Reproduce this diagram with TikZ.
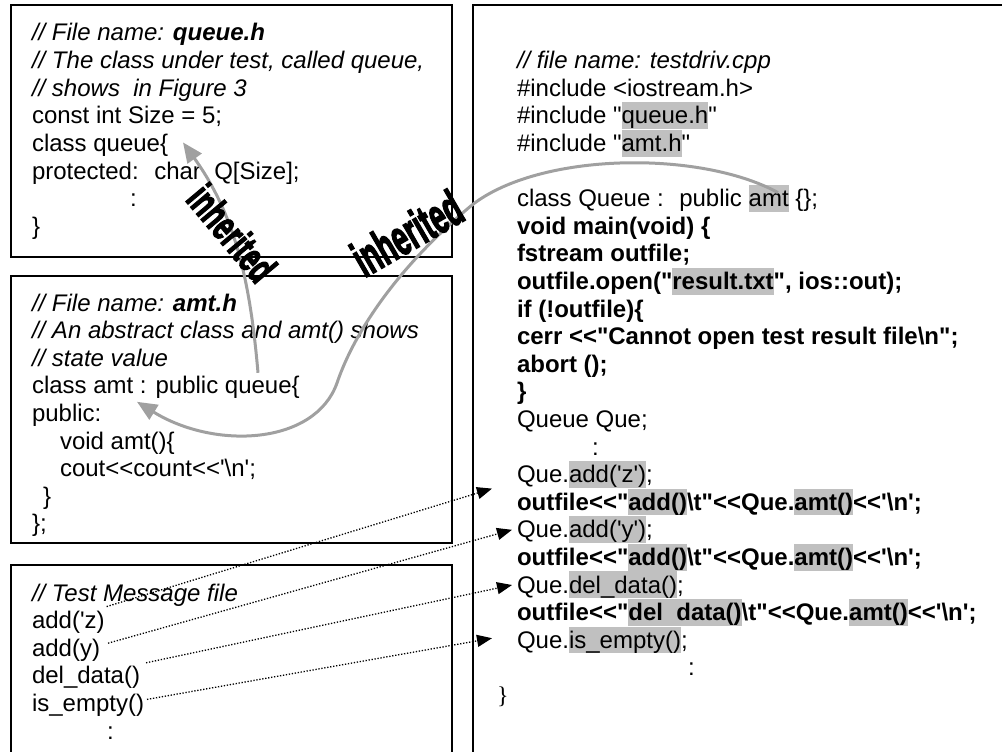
\documentclass[tikz,border=0pt]{standalone}
\usepackage{fontspec}
\usepackage{graphicx}
\setmainfont{Liberation Sans}[Ligatures=TeXOff]
\newfontfamily\bracefont{Liberation Serif}
\newfontfamily\wafont{Liberation Sans}[BoldFeatures={FakeBold=3.5}]
\usetikzlibrary{arrows.meta}
\definecolor{hlgray}{RGB}{192,192,192}
\definecolor{arrowgray}{RGB}{160,160,160}
% grey shading behind a word, as tall as the text line
\newcommand\hl[1]{{\setlength{\fboxsep}{0pt}\colorbox{hlgray}{\rule[-5.1pt]{0pt}{26.8pt}#1}}}
\newcommand\bs{\textbackslash}
\begin{document}
\begin{tikzpicture}[x=1pt,y=-1pt,
  frame/.style={draw=black, line width=1.6pt},
  ln/.style={anchor=base west, inner sep=0pt, outer sep=0pt, font=\fontsize{24}{27.6}\selectfont},
  inherit/.style={draw=arrowgray, line width=3pt, -{Triangle[length=20pt,width=17pt]}},
  msg/.style={draw=black, line width=1.3pt, dash pattern=on 1.3pt off 1.7pt, -{Triangle[length=15pt,width=12pt]}},
  wordart/.style={inner sep=0pt, font=\fontsize{40}{40}\wafont\bfseries}]
\useasboundingbox (0,0) rectangle (1002,752);
\clip (0,0) rectangle (1002,752);

% file frames
\draw[frame] (11,5) rectangle (452,257);
\draw[frame] (11,276) rectangle (452,543);
\draw[frame] (11,565) rectangle (452,770);
\draw[frame] (473,5) rectangle (1020,770);

% queue.h
\node[ln] (qa0) at (32,41) {\itshape // File name: \textbf{queue.h}};
\node[ln] (qa1) at (32,68.6) {\itshape // The class under test, called queue,};
\node[ln] (qa2) at (32,96.2) {\itshape // shows~ in Figure 3};
\node[ln] (qa3) at (32,123.8) {const int Size = 5;};
\node[ln] (qaClass) at (32,151.4) {class queue\{};
\node[ln] (qa5) at (32,179) {protected:~ char~ Q[Size];};
\node[ln] (qa6) at (130,206.6) {:};
\node[ln] (qa7) at (32,234.2) {\}};

% amt.h
\node[ln] (b0) at (32,311) {\itshape // File name: \textbf{amt.h}};
\node[ln] (b1) at (32,338.6) {\itshape // An abstract class and amt() shows};
\node[ln] (b2) at (32,366.2) {\itshape // state value};
\node[ln] (bClass) at (32,393.8) {class amt : public queue\{};
\node[ln] (b4) at (32,421.4) {public:};
\node[ln] (b5) at (60,449) {void amt()\{};
\node[ln] (b6) at (60,476.6) {cout<<count<<'\bs n';};
\node[ln] (b7) at (43,504.2) {\}};
\node[ln] (b8) at (32,531.8) {\};};

% test message file
\node[ln] (c0) at (32,601) {\itshape // Test Message file};
\node[ln] (cAddZ) at (32,628.6) {add('z)};
\node[ln] (cAddY) at (32,656.2) {add(y)};
\node[ln] (cDel) at (32,683.8) {del\_data()};
\node[ln] (cEmpty) at (32,711.4) {is\_empty()};
\node[ln] (c5) at (107,739) {:};

% testdriv.cpp
\node[ln] (d1) at (517,68.6) {\itshape // file name: testdriv.cpp};
\node[ln] (d2) at (517,96.2) {\#include <iostream.h>};
\node[ln] (d3) at (517,123.8) {\#include "\hl{queue.h}"};
\node[ln] (d4) at (517,151.4) {\#include "\hl{amt.h}"};
\node[ln] (dClassQ) at (517,206.6) {class Queue :~ public \hl{amt} \{\};};
\node[ln] (d7) at (517,234.2) {\bfseries void main(void) \{};
\node[ln] (d8) at (517,261.8) {\bfseries fstream outfile;};
\node[ln] (d9) at (517,289.4) {\bfseries outfile.open("\hl{result.txt}", ios::out);};
\node[ln] (d10) at (517,317) {\bfseries if (!outfile)\{};
\node[ln] (d11) at (517,344.6) {\bfseries cerr <<"Cannot open test result file\bs n";};
\node[ln] (d12) at (517,372.2) {\bfseries abort ();};
\node[ln] (d13) at (517,399.8) {\bfseries \}};
\node[ln] (d14) at (517,427.4) {Queue Que;};
\node[ln] (d15) at (592,455) {:};
\node[ln] (dAddZ) at (517,482.6) {Que.\hl{add('z')};};
\node[ln] (d17) at (517,510.2) {\bfseries outfile<<"\hl{add()}\bs t"<<Que.\hl{amt()}<<'\bs n';};
\node[ln] (dAddY) at (517,537.8) {Que.\hl{add('y')};};
\node[ln] (d19) at (517,565.4) {\bfseries outfile<<"\hl{add()}\bs t"<<Que.\hl{amt()}<<'\bs n';};
\node[ln] (dDel) at (517,593) {Que.\hl{del\_data()};};
\node[ln] (d21) at (517,620.6) {\bfseries outfile<<"\hl{del~~data()}\bs t"<<Que.\hl{amt()}<<'\bs n';};
\node[ln] (dEmpty) at (517,648.2) {Que.\hl{is\_empty()};};
\node[ln] (d23) at (688,675.8) {:};
\node[ln] (d24) at (497,703.4) {\bracefont\}};

% inheritance arrows
\draw[inherit] ([shift={(226,-21)}]bClass.base west)
  .. controls (250,280) and (235,215) .. ([shift={(151,-9)}]qaClass.base west);
\draw[inherit] ([shift={(261,-14)}]dClassQ.base west)
  .. controls (700,150) and (540,152) .. (472,205)
  .. controls (400,265) and (355,330) .. (337,383)
  .. controls (315,445) and (215,450) .. ([shift={(105,8)}]bClass.base west);

% message links
\draw[msg] ([shift={(2,-22)}]cAddZ.base east) -- ([shift={(-25,6)}]dAddZ.base west);
\draw[msg] ([shift={(8,-13)}]cAddY.base east) -- ([shift={(-5,-8)}]dAddY.base west);
\draw[msg] ([shift={(6,-21)}]cDel.base east) -- ([shift={(-5,-8)}]dDel.base west);
\draw[msg] ([shift={(3,-12)}]cEmpty.base east) -- ([shift={(-25,-10)}]dEmpty.base west);

% labels on the inheritance arrows
\node[wordart, rotate=-50] (inhA) at (232,233) {\scalebox{0.66}[1.05]{inherited}};
\node[wordart, rotate=30] (inhB) at (407,233) {\scalebox{0.7}[1.25]{inherited}};
\end{tikzpicture}
\end{document}
